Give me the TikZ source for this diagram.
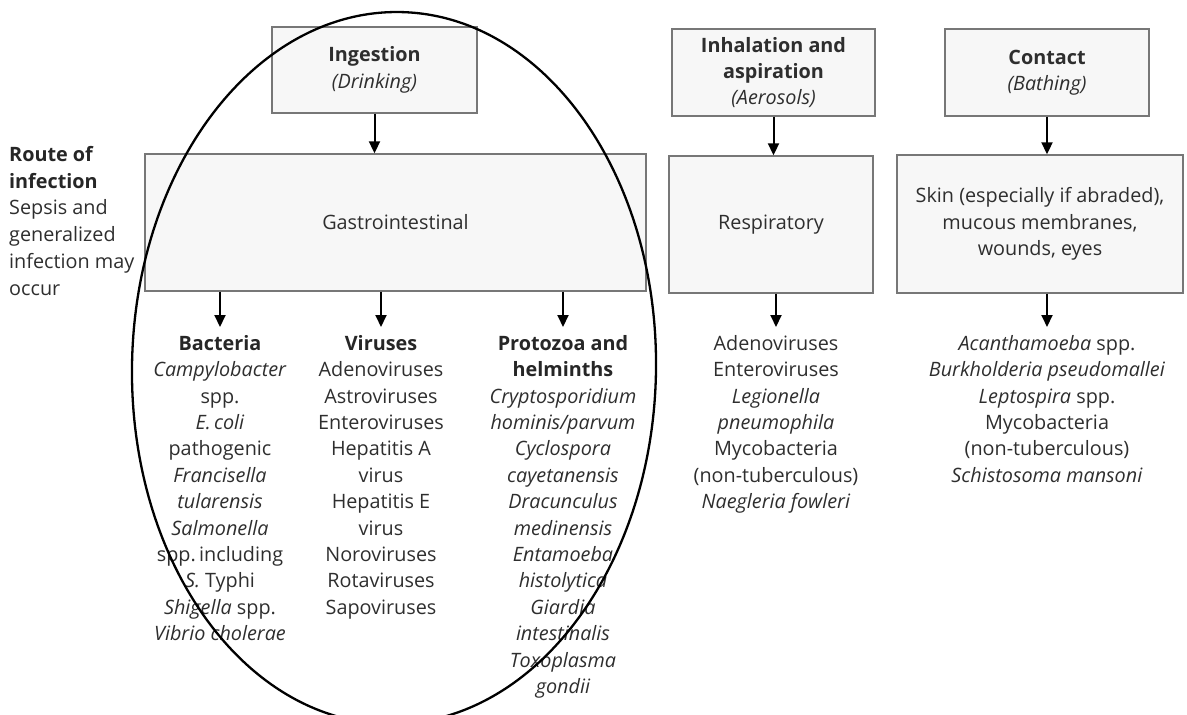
\documentclass[tikz,border=0pt]{standalone}
\usepackage{fontspec}
\setmainfont{Open Sans}
\usetikzlibrary{arrows.meta,calc}
\definecolor{txt}{HTML}{2E2E2E}
\definecolor{boxfill}{HTML}{F7F7F7}
\definecolor{boxline}{HTML}{777777}
\newcommand{\myfs}{\fontsize{19.8}{26.4}\selectfont}
\tikzset{
  routebox/.style={draw=boxline, fill=boxfill, line width=1.4pt, inner sep=0pt, align=center, text=txt, font=\myfs},
  listtext/.style={anchor=north, inner sep=0pt, align=center, text=txt, font=\myfs},
  arr/.style={-{Triangle[length=12pt,width=11pt]}, line width=2pt, black},
}
\begin{document}
\begin{tikzpicture}[x=1pt,y=-1pt]
\useasboundingbox (0,0) rectangle (1187,715);
% top boxes
\node[routebox, minimum width=205pt, minimum height=86pt] (ing) at (374.5,70) {\textbf{Ingestion}\\\textit{(Drinking)}};
\node[routebox, minimum width=203pt, minimum height=87pt] (inh) at (773.5,72.5) {\textbf{Inhalation and}\\\textbf{aspiration}\\\textit{(Aerosols)}};
\node[routebox, minimum width=204pt, minimum height=87pt] (con) at (1047,72.5) {\textbf{Contact}\\\textit{(Bathing)}};
% route boxes
\node[routebox, minimum width=501pt, minimum height=137pt] (gi) at (395.5,222.5) {Gastrointestinal};
\node[routebox, minimum width=204pt, minimum height=137pt] (resp) at (771,224.5) {Respiratory};
\node[routebox, minimum width=286pt, minimum height=138pt] (skin) at (1040,224) {Skin (especially if abraded),\\mucous membranes,\\wounds, eyes};
% side label
\node[anchor=north west, inner sep=0pt, align=left, text=txt, font=\fontsize{19.8}{26.8}\selectfont] (side) at (9,146)
 {\textbf{\color{black!85}Route of}\\\textbf{\color{black!85}infection}\\Sepsis and\\generalized\\infection may\\occur};
% lists
\node[listtext] (bact) at (220,335) {\textbf{\color{black!85}Bacteria}\\\textit{Campylobacter}\\spp.\\\textit{E.\,coli}\\pathogenic\\\textit{Francisella}\\\textit{tularensis}\\\textit{Salmonella}\\spp.\,including\\\textit{S.} Typhi\\\textit{Shigella} spp.\\\textit{Vibrio cholerae}};
\node[listtext] (vir) at (381,335) {\textbf{\color{black!85}Viruses}\\Adenoviruses\\Astroviruses\\Enteroviruses\\Hepatitis A\\virus\\Hepatitis E\\virus\\Noroviruses\\Rotaviruses\\Sapoviruses};
\node[listtext] (prot) at (563,335) {\textbf{\color{black!85}Protozoa and}\\\textbf{\color{black!85}helminths}\\\textit{Cryptosporidium}\\\textit{hominis/parvum}\\\textit{Cyclospora}\\\textit{cayetanensis}\\\textit{Dracunculus}\\\textit{medinensis}\\\textit{Entamoeba}\\\textit{histolytica}\\\textit{Giardia}\\\textit{intestinalis}\\\textit{Toxoplasma}\\\textit{gondii}};
\node[listtext] (rlist) at (776,335) {Adenoviruses\\Enteroviruses\\\textit{Legionella}\\\textit{pneumophila}\\Mycobacteria\\(non-tuberculous)\\\textit{Naegleria fowleri}};
\node[listtext] (clist) at (1047,335) {\textit{Acanthamoeba} spp.\\\textit{Burkholderia pseudomallei}\\\textit{Leptospira} spp.\\Mycobacteria\\(non-tuberculous)\\\textit{Schistosoma mansoni}};
% arrows
\draw[arr] (ing.south) -- (ing.south |- gi.north);
\draw[arr] (inh.south) -- (inh.south |- resp.north);
\draw[arr] (con.south) -- (con.south |- skin.north);
\draw[arr] (bact.north |- gi.south) -- ([yshift=8pt]bact.north);
\draw[arr] (vir.north |- gi.south) -- ([yshift=8pt]vir.north);
\draw[arr] (prot.north |- gi.south) -- ([yshift=8pt]prot.north);
\draw[arr] (rlist.north |- resp.south) -- ([yshift=8pt]rlist.north);
\draw[arr] (clist.north |- skin.south) -- ([yshift=8pt]clist.north);
% ellipse
\draw[line width=2.3pt, black, rotate around={-1:(394,368)}] (394,368) ellipse [x radius=262pt, y radius=356pt];
\end{tikzpicture}
\end{document}
